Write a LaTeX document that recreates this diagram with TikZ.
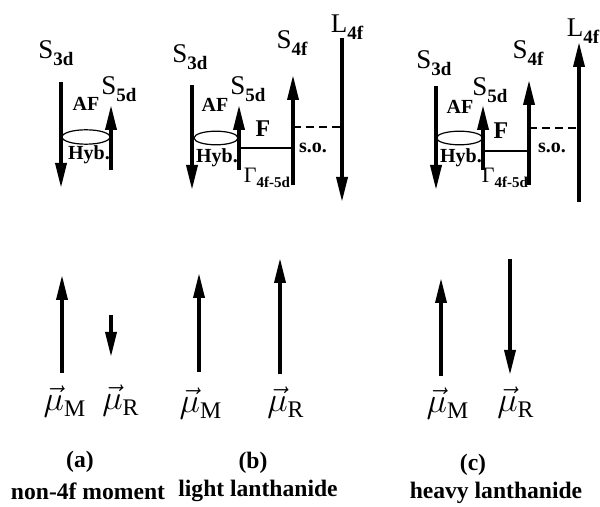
\documentclass[tikz,border=0pt]{standalone}
\usepackage{fontspec}
\setmainfont{Liberation Serif}
\usetikzlibrary{arrows.meta, positioning}

% spin / moment label with lowered bold subscript
\newcommand{\lowsub}[3]{#2\raisebox{-0.55ex}{\fontsize{#1}{#1}\selectfont\bfseries #3}}

\begin{document}
\begin{tikzpicture}[
    x=0.5pt, y=-0.5pt,
    spin/.style={line width=1.8pt, -{Triangle[length=12.5pt, width=5.5pt]}},
    coupling/.style={line width=1.2pt},
    socoupling/.style={line width=1pt, dash pattern=on 4pt off 2.5pt},
    hyb/.style={line width=0.6pt},
    slbl/.style={font=\fontsize{13.5}{15}\selectfont, inner sep=0pt},
    clbl/.style={font=\fontsize{10}{12}\selectfont\bfseries, inner sep=0pt},
    mulbl/.style={font=\fontsize{17}{19}\selectfont, inner sep=0pt},
    caption/.style={font=\fontsize{11.8}{14}\selectfont\bfseries, inner sep=0pt}
]
\useasboundingbox (0,0) rectangle (600,507);

% (a) non-4f moment
\coordinate (a3dT) at (61,82);
\coordinate (a3dB) at (61,188);
\coordinate (a5dB) at (111,170);
\coordinate (a5dT) at (111,105);
\draw[spin] (a3dT) -- (a3dB);
\draw[spin] (a5dB) -- (a5dT);
\draw[hyb] (86,137) ellipse [x radius=12pt, y radius=3.6pt];
\node[slbl] (a3d) at (56,53)  {\lowsub{9.5}{S}{3d}};
\node[slbl] (a5d) at (119,89) {\lowsub{9.5}{S}{5d}};
\node[clbl] (aaf) at (86,104) {AF};
\node[clbl] (ahyb) at (89,155) {Hyb.};

% (b) light lanthanide
\coordinate (b3dT) at (192,85);
\coordinate (b3dB) at (192,190);
\coordinate (b5dB) at (239,170);
\coordinate (b5dT) at (239,105);
\coordinate (b4fB) at (293,185);
\coordinate (b4fT) at (293,75);
\coordinate (bLT) at (342,38);
\coordinate (bLB) at (342,202);
\draw[spin] (b3dT) -- (b3dB);
\draw[spin] (b5dB) -- (b5dT);
\draw[spin] (b4fB) -- (b4fT);
\draw[spin] (bLT) -- (bLB);
\draw[hyb] (216,138) ellipse [x radius=11pt, y radius=3.4pt];
\draw[coupling] (b5dB |- 0,148) -- (b4fB |- 0,148);
\draw[socoupling] (b4fB |- 0,127) -- (bLB |- 0,127);
\node[slbl] (b3d) at (190,57) {\lowsub{9.5}{S}{3d}};
\node[slbl] (b5d) at (248,89) {\lowsub{9.5}{S}{5d}};
\node[slbl] (b4f) at (292,43) {\lowsub{9.5}{S}{4f}};
\node[slbl] (bL)  at (347,27) {\lowsub{9.5}{L}{4f}};
\node[clbl] (baf) at (215,105) {AF};
\node[clbl] (bhyb) at (217,158) {Hyb.};
\node[clbl, font=\fontsize{12}{14}\selectfont\bfseries] (bf) at (263,129) {F};
\node[clbl] (bso) at (313,148) {s.o.};
\node[clbl, font=\fontsize{11}{12}\selectfont] (bgam) at (267,178) {\lowsub{7.5}{Γ}{4f-5d}};

% (c) heavy lanthanide
\coordinate (c3dT) at (436,86);
\coordinate (c3dB) at (436,190);
\coordinate (c5dB) at (483,170);
\coordinate (c5dT) at (483,105);
\coordinate (c4fB) at (529,185);
\coordinate (c4fT) at (529,80);
\coordinate (cLB) at (579,202);
\coordinate (cLT) at (579,42);
\draw[spin] (c3dT) -- (c3dB);
\draw[spin] (c5dB) -- (c5dT);
\draw[spin] (c4fB) -- (c4fT);
\draw[spin] (cLB) -- (cLT);
\draw[hyb] (459.5,138) ellipse [x radius=11.5pt, y radius=3.4pt];
\draw[coupling] (c5dB |- 0,151) -- (c4fB |- 0,151);
\draw[socoupling] (c4fB |- 0,128) -- (cLB |- 0,128);
\node[slbl] (c3d) at (434,63) {\lowsub{9.5}{S}{3d}};
\node[slbl] (c5d) at (490,90) {\lowsub{9.5}{S}{5d}};
\node[slbl] (c4f) at (528,53) {\lowsub{9.5}{S}{4f}};
\node[slbl] (cL)  at (583,31) {\lowsub{9.5}{L}{4f}};
\node[clbl] (caf) at (460,107) {AF};
\node[clbl] (chyb) at (461,158) {Hyb.};
\node[clbl, font=\fontsize{12}{14}\selectfont\bfseries] (cf) at (501,131) {F};
\node[clbl] (cso) at (552,148) {s.o.};
\node[clbl, font=\fontsize{11}{12}\selectfont] (cgam) at (505,178) {\lowsub{7.5}{Γ}{4f-5d}};

% net moments
\coordinate (aMB) at (62,373);
\coordinate (aMT) at (62,275);
\coordinate (aRT) at (111,315);
\coordinate (aRB) at (111,357);
\coordinate (bMB) at (199,372);
\coordinate (bMT) at (199,273);
\coordinate (bRB) at (280,374);
\coordinate (bRT) at (280,258);
\coordinate (cMB) at (441,376);
\coordinate (cMT) at (441,278);
\coordinate (cRT) at (510,259);
\coordinate (cRB) at (510,375);
\draw[spin] (aMB) -- (aMT);
\draw[spin] (aRT) -- (aRB);
\draw[spin] (bMB) -- (bMT);
\draw[spin] (bRB) -- (bRT);
\draw[spin] (cMB) -- (cMT);
\draw[spin] (cRT) -- (cRB);
\node[mulbl] (amu) at (65,402)  {$\vec{\mu}_{\mathrm{M}}$};
\node[mulbl] (armu) at (121,401) {$\vec{\mu}_{\mathrm{R}}$};
\node[mulbl] (bmu) at (201,404) {$\vec{\mu}_{\mathrm{M}}$};
\node[mulbl] (brmu) at (286,403) {$\vec{\mu}_{\mathrm{R}}$};
\node[mulbl] (cmu) at (448,404) {$\vec{\mu}_{\mathrm{M}}$};
\node[mulbl] (crmu) at (516,403) {$\vec{\mu}_{\mathrm{R}}$};

% captions
\node[caption] (acap) at (80,462) {(a)};
\node[caption] (atxt) at (88,491) {non-4f moment};
\node[caption] (bcap) at (253,463) {(b)};
\node[caption] (btxt) at (258,491) {light lanthanide};
\node[caption] (ccap) at (473,465) {(c)};
\node[caption] (ctxt) at (496,493) {heavy lanthanide};

\end{tikzpicture}
\end{document}
